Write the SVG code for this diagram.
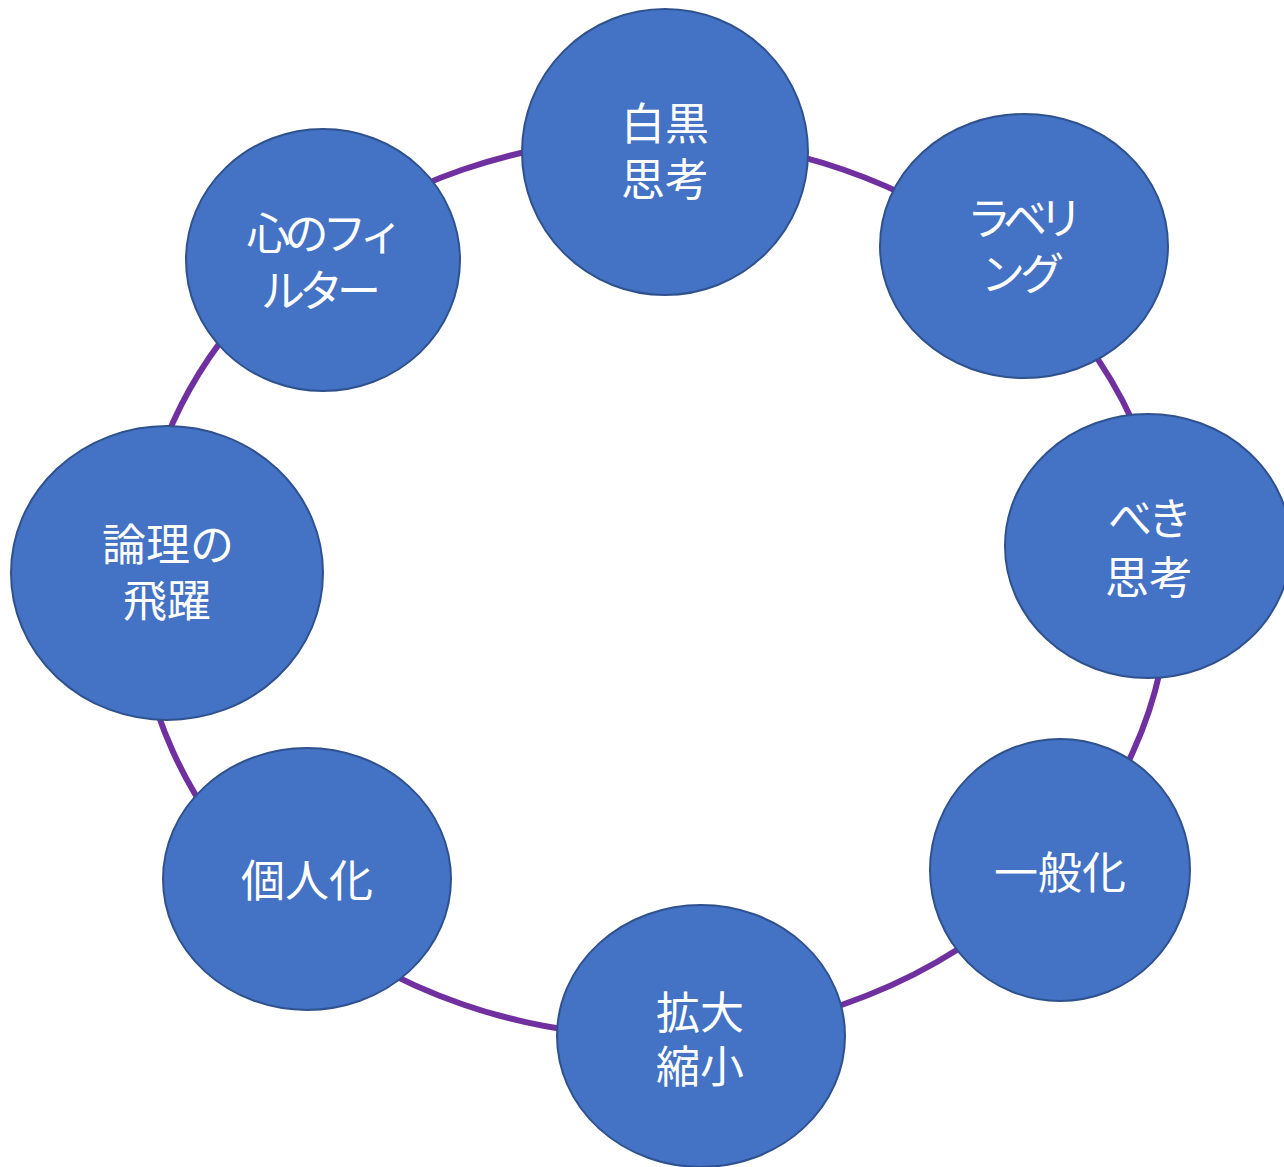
<svg xmlns="http://www.w3.org/2000/svg" width="1284" height="1167" viewBox="0 0 1284 1167">
<style>
.n{fill:#4472C4;stroke:#2F528F;stroke-width:2}
.t{fill:#fff;font-family:"Noto Sans CJK JP","Noto Sans",sans-serif;font-size:44px;text-anchor:middle}
.ring{fill:none;stroke:#7030A0;stroke-width:6}
</style>
<rect width="1284" height="1167" fill="#fff"/>
<g id="connectors">
<ellipse class="ring" cx="653" cy="587" rx="516" ry="449"/>
</g>
<g id="n1"><ellipse class="n" cx="665" cy="152" rx="143" ry="143"/><text class="t" x="665" y="140">白黒</text><text class="t" x="665" y="196">思考</text></g>
<g id="n2"><ellipse class="n" cx="1024" cy="246" rx="144" ry="132"/><text class="t" x="1021" y="235" letter-spacing="-8">ラベリ</text><text class="t" x="1020" y="290" letter-spacing="-5">ング</text></g>
<g id="n3"><ellipse class="n" cx="1148" cy="546" rx="143" ry="132"/><text class="t" x="1148" y="535" letter-spacing="-4">べき</text><text class="t" x="1149" y="594">思考</text></g>
<g id="n4"><ellipse class="n" cx="1060" cy="870" rx="130" ry="131"/><text class="t" x="1060" y="889">一般化</text></g>
<g id="n5"><ellipse class="n" cx="701" cy="1036" rx="144" ry="131"/><text class="t" x="700" y="1029">拡大</text><text class="t" x="700" y="1083">縮小</text></g>
<g id="n6"><ellipse class="n" cx="307" cy="879" rx="144" ry="131"/><text class="t" x="307" y="897">個人化</text></g>
<g id="n7"><ellipse class="n" cx="167" cy="573" rx="156" ry="147"/><text class="t" x="168" y="561">論理の</text><text class="t" x="167" y="617">飛躍</text></g>
<g id="n8"><ellipse class="n" cx="323" cy="260" rx="137" ry="131"/><text class="t" x="322" y="250" letter-spacing="-6">心のフィ</text><text class="t" x="318" y="307" letter-spacing="-6">ルター</text></g>
</svg>
